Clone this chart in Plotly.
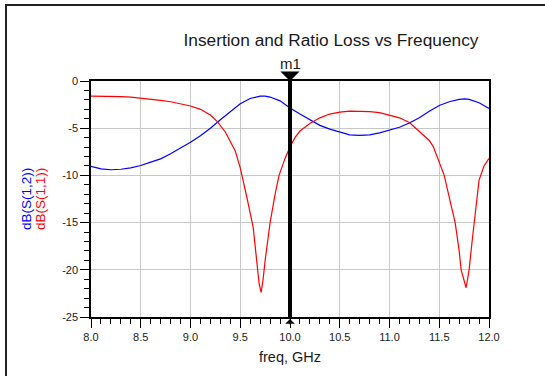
import plotly.graph_objects as go

# ---- data ----
freq_s11 = [8.0, 8.1, 8.2, 8.3, 8.4, 8.5, 8.6, 8.7, 8.8, 8.9, 9.0, 9.1, 9.2, 9.27, 9.3, 9.35,
            9.4, 9.45, 9.5, 9.53, 9.57, 9.6, 9.63, 9.66, 9.69, 9.71, 9.73, 9.75, 9.78, 9.8,
            9.85, 9.89, 9.95, 10.0, 10.05, 10.1, 10.2, 10.3, 10.4, 10.5, 10.6, 10.7, 10.8,
            10.9, 11.0, 11.1, 11.2, 11.3, 11.4, 11.44, 11.5, 11.55, 11.6, 11.66, 11.7, 11.72,
            11.77, 11.8, 11.83, 11.85, 11.9, 11.95, 12.0]
db_s11 = [-1.6, -1.6, -1.62, -1.65, -1.7, -1.8, -1.9, -2.05, -2.2, -2.4, -2.65, -3.0, -3.6, -4.3,
          -4.7, -5.4, -6.4, -7.4, -9.2, -10.5, -12.5, -14.0, -15.5, -18.5, -21.5, -22.4, -21.0,
          -19.0, -16.5, -15.0, -12.0, -10.0, -8.2, -7.0, -6.0, -5.3, -4.5, -3.9, -3.5, -3.3,
          -3.2, -3.2, -3.25, -3.35, -3.6, -3.9, -4.4, -5.3, -6.3, -6.95, -8.5, -10.0, -12.3,
          -15.0, -18.0, -20.0, -21.9, -20.0, -17.0, -15.0, -10.5, -9.0, -8.2]

freq_s12 = [8.0, 8.1, 8.2, 8.3, 8.4, 8.5, 8.6, 8.7, 8.8, 8.9, 9.0, 9.1, 9.2, 9.3, 9.4, 9.5,
            9.6, 9.7, 9.75, 9.8, 9.9, 10.0, 10.1, 10.2, 10.3, 10.4, 10.5, 10.6, 10.7, 10.8,
            10.9, 11.0, 11.1, 11.2, 11.3, 11.4, 11.5, 11.6, 11.7, 11.76, 11.8, 11.9, 12.0]
db_s12 = [-9.05, -9.3, -9.4, -9.35, -9.2, -8.95, -8.6, -8.25, -7.7, -7.1, -6.5, -5.8, -5.0,
          -4.1, -3.2, -2.4, -1.85, -1.6, -1.6, -1.7, -2.1, -2.85, -3.5, -4.1, -4.7, -5.1, -5.4,
          -5.7, -5.75, -5.7, -5.5, -5.2, -4.9, -4.45, -3.9, -3.2, -2.6, -2.2, -1.95, -1.9,
          -1.95, -2.3, -2.9]

marker_freq = 10.0
marker_name = "m1"

x_tickvals = [8.0, 8.5, 9.0, 9.5, 10.0, 10.5, 11.0, 11.5, 12.0]
x_ticktext = ["8.0", "8.5", "9.0", "9.5", "10.0", "10.5", "11.0", "11.5", "12.0"]
y_tickvals = [0, -5, -10, -15, -20, -25]
y_ticktext = ["0", "-5", "-10", "-15", "-20", "-25"]

title_text = "Insertion and Ratio Loss vs Frequency"
x_title = "freq, GHz"
y_title_blue = "dB(S(1,2))"
y_title_red = "dB(S(1,1))"

# ---- layout constants (pixels) ----
W, H = 545, 376
L, R, T, B = 91, 56, 81, 59
PW, PH = W - L - R, H - T - B
FONT = "Liberation Sans, Arial, sans-serif"
TXT = "#1a1a1a"


def px_to_paper_x(px):
    return (px - L) / PW


def py_to_paper_y(py):
    return 1 - (py - T) / PH


fig = go.Figure()
fig.add_trace(go.Scatter(x=freq_s12, y=db_s12, mode="lines",
                         line=dict(color="#0000ff", width=1.2), showlegend=False))
fig.add_trace(go.Scatter(x=freq_s11, y=db_s11, mode="lines",
                         line=dict(color="#ff0000", width=1.2), showlegend=False))
fig.add_trace(go.Scatter(x=[marker_freq, marker_freq], y=[y_tickvals[0], y_tickvals[-1]],
                         mode="lines", line=dict(color="black", width=4),
                         showlegend=False, cliponaxis=False))

axis_common = dict(showline=True, linecolor="black", linewidth=1.5, mirror=True,
                   ticks="outside", tickcolor="black", tickwidth=1.2,
                   showgrid=True, gridcolor="#c8c8c8", gridwidth=1.2, zeroline=False,
                   tickfont=dict(family=FONT, size=11, color=TXT))

fig.update_xaxes(range=[8, 12], tickvals=x_tickvals, ticktext=x_ticktext, ticklen=9,
                 minor=dict(dtick=0.1, ticklen=5, ticks="outside", tickcolor="black",
                            tickwidth=1.2, showgrid=False),
                 title=dict(text=x_title, font=dict(family=FONT, size=14.5, color=TXT),
                            standoff=10),
                 **axis_common)
fig.update_yaxes(range=[-25, 0], tickvals=y_tickvals, ticktext=y_ticktext, ticklen=9,
                 minor=dict(dtick=1, ticklen=5, ticks="outside", tickcolor="black",
                            tickwidth=1.2, showgrid=False),
                 **axis_common)

annotations = [
    dict(text=y_title_blue, xref="paper", yref="paper", x=px_to_paper_x(26), y=0.5,
         textangle=-90, showarrow=False, xanchor="center", yanchor="middle",
         font=dict(family=FONT, size=13.5, color="#0000ff")),
    dict(text=y_title_red, xref="paper", yref="paper", x=px_to_paper_x(40), y=0.5,
         textangle=-90, showarrow=False, xanchor="center", yanchor="middle",
         font=dict(family=FONT, size=13.5, color="#ff0000")),
    dict(text=marker_name, xref="x", yref="paper", x=marker_freq, y=py_to_paper_y(63),
         showarrow=False, xanchor="center", yanchor="middle",
         font=dict(family=FONT, size=15, color=TXT)),
    dict(text="", xref="x", yref="y", x=marker_freq, y=y_tickvals[0], showarrow=True,
         ax=0, ay=-9, arrowhead=1, arrowwidth=4, arrowsize=0.8, arrowcolor="black"),
    dict(text="", xref="x", yref="y", x=marker_freq, y=y_tickvals[-1], showarrow=True,
         ax=0, ay=9, arrowhead=1, arrowwidth=1, arrowsize=1.6, arrowcolor="black",
         standoff=2),
]

shapes = [
    dict(type="line", xref="paper", yref="paper", x0=px_to_paper_x(5), x1=px_to_paper_x(W + 5),
         y0=py_to_paper_y(5), y1=py_to_paper_y(5), line=dict(color="#222", width=2)),
    dict(type="line", xref="paper", yref="paper", x0=px_to_paper_x(6), x1=px_to_paper_x(6),
         y0=py_to_paper_y(4), y1=py_to_paper_y(H + 5), line=dict(color="#222", width=2)),
]

fig.update_layout(
    width=W, height=H,
    margin=dict(l=L, r=R, t=T, b=B, pad=0),
    paper_bgcolor="white", plot_bgcolor="white",
    title=dict(text=title_text, x=331 / W, xanchor="center", xref="container",
               y=1 - 40 / H, yanchor="middle", yref="container",
               font=dict(family=FONT, size=17.3, color=TXT)),
    annotations=annotations, shapes=shapes,
)

fig.write_html("out.html")
